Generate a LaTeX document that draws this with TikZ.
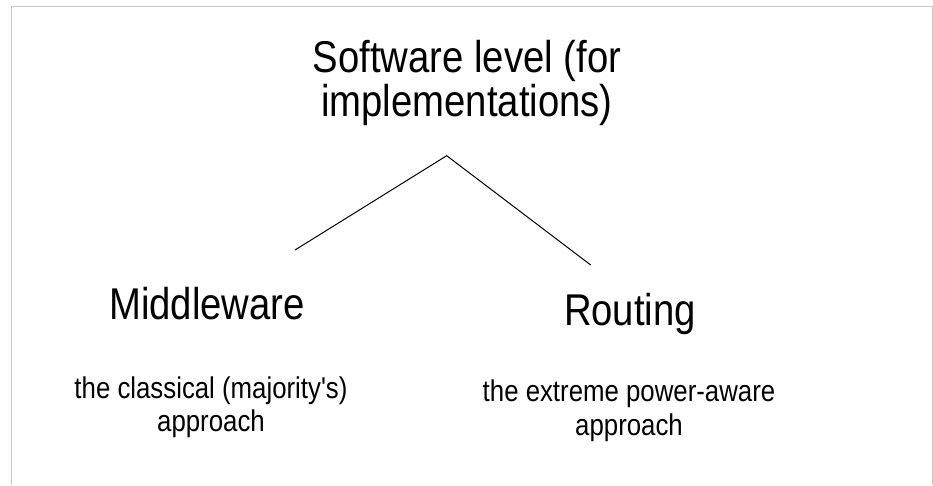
\documentclass[tikz,border=0pt]{standalone}
\usepackage{fontspec}
\setmainfont{Liberation Sans}
\newfontfamily\narrowsans[FakeStretch=0.86]{Liberation Sans}
\begin{document}
\begin{tikzpicture}[x=1pt,y=-1pt,
  bigtext/.style={inner sep=0pt, align=center,
    font=\narrowsans\fontsize{44.5}{44}\selectfont},
  smalltext/.style={inner sep=0pt, align=center,
    font=\narrowsans\fontsize{30}{33.5}\selectfont},
  link/.style={draw=black, line width=1pt},
  frame/.style={draw=black!22, line width=1pt}]
  \useasboundingbox (0,0) rectangle (933,485);
  % page frame
  \draw[frame] (11,485) -- (11,6) -- (932,6) -- (932,485);

  % title and the two branches
  \node[bigtext] (root) at (467,83) {Software level (for\\implementations)};
  \node[bigtext, anchor=base] (mw) at (207,319.5) {Middleware};
  \node[bigtext, anchor=base] (rt) at (630,325.7) {Routing};
  \node[smalltext] (mwnote) at (211,407) {the classical (majority's)\\approach};
  \node[smalltext] (rtnote) at (629,410.7) {the extreme power-aware\\approach};

  % tree connectors
  \coordinate (apex) at (446.7,155.7);
  \coordinate (mwtop) at (295,250);
  \coordinate (rttop) at (590.7,265);
  \draw[link] (mwtop) -- (apex) -- (rttop);
\end{tikzpicture}
\end{document}
